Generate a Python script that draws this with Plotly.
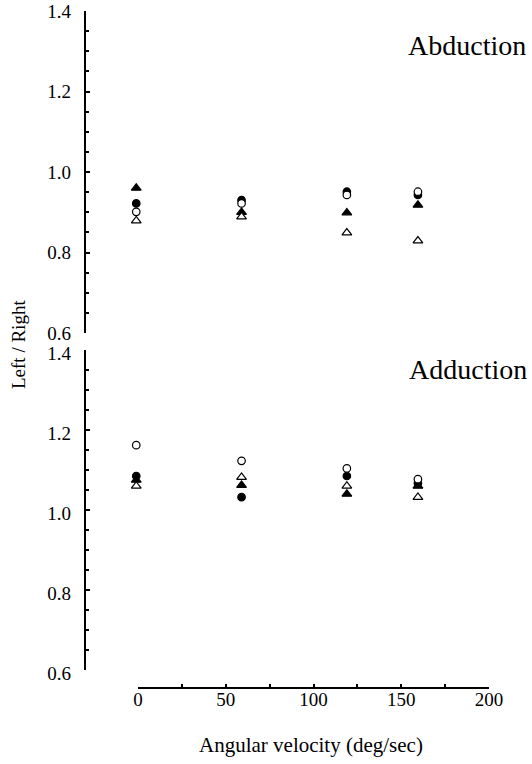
import plotly.graph_objects as go

# ---- data ----
velocity = [-1, 59, 119, 159.5]

abd_filled_circle = [0.922, 0.930, 0.951, 0.943]
abd_open_circle = [0.901, 0.922, 0.943, 0.951]
abd_filled_tri = [0.960, 0.900, 0.899, 0.918]
abd_open_tri = [0.879, 0.889, 0.849, 0.829]

add_filled_circle = [1.085, 1.032, 1.085, 1.067]
add_open_circle = [1.162, 1.123, 1.104, 1.077]
add_filled_tri = [1.075, 1.062, 1.040, 1.060]
add_open_tri = [1.060, 1.082, 1.060, 1.032]

x_ticks = [0, 50, 100, 150, 200]
y_ticks = [0.6, 0.8, 1.0, 1.2, 1.4]

FONT = "Liberation Serif"
W, H = 532, 764


def px_x(p):
    return p / W


def px_y(p):
    return 1 - p / H


# visible x axis: 0 -> px 138, 200 -> px 489
X0_PX, X1_PX = 138, 489
PX_PER_UNIT = (X1_PX - X0_PX) / 200.0
# hidden data axis spans px 86..520 with the same scale
D0, D1 = 86, 520
data_range = [(D0 - X0_PX) / PX_PER_UNIT, (D1 - X0_PX) / PX_PER_UNIT]

fig = go.Figure()


def add_series(y, yaxis, symbol, filled, name):
    fig.add_trace(go.Scatter(
        x=velocity, y=y, mode="markers", yaxis=yaxis, xaxis="x",
        name=name, showlegend=False, cliponaxis=False,
        marker=dict(
            symbol=symbol,
            size=8.5 if "triangle" in symbol else 7.5,
            color="black" if filled else "white",
            line=dict(color="black", width=1.2),
        ),
    ))


for ya, fc, oc, ft, ot in [
    ("y", abd_filled_circle, abd_open_circle, abd_filled_tri, abd_open_tri),
    ("y2", add_filled_circle, add_open_circle, add_filled_tri, add_open_tri),
]:
    add_series(ft, ya, "triangle-up", True, "filled triangle")
    add_series(fc, ya, "circle", True, "filled circle")
    add_series(ot, ya, "triangle-up", False, "open triangle")
    add_series(oc, ya, "circle", False, "open circle")

# empty trace so the separate velocity axis gets drawn
fig.add_trace(go.Scatter(x=[], y=[], xaxis="x2", yaxis="y3",
                         showlegend=False, hoverinfo="skip"))

yaxis_common = dict(
    range=[0.6, 1.4], tickvals=y_ticks, ticktext=[f"{v:.1f}" for v in y_ticks],
    showline=True, linecolor="black", linewidth=2.2,
    ticks="inside", ticklen=4, tickwidth=2, tickcolor="black",
    minor=dict(dtick=0.05, ticks="inside", ticklen=3, tickwidth=1.5, tickcolor="black"),
    showgrid=False, zeroline=False,
    tickfont=dict(family=FONT, size=19, color="black"),
    ticklabelstandoff=9,
    anchor="x", automargin=False,
)

fig.update_layout(
    template="none",
    width=W, height=H,
    margin=dict(l=0, r=0, t=0, b=0, pad=0),
    paper_bgcolor="white", plot_bgcolor="rgba(0,0,0,0)",
    xaxis=dict(
        domain=[px_x(D0), px_x(D1)], range=data_range,
        visible=False, anchor="y2", automargin=False,
    ),
    xaxis2=dict(
        domain=[px_x(X0_PX), px_x(X1_PX)], range=[0, 200],
        tickvals=x_ticks, ticktext=[str(v) for v in x_ticks],
        showline=True, linecolor="black", linewidth=2,
        ticks="inside", ticklen=3, tickwidth=1.5, tickcolor="black",
        minor=dict(dtick=25, ticks="inside", ticklen=3, tickwidth=1.5, tickcolor="black"),
        showgrid=False, zeroline=False,
        tickfont=dict(family=FONT, size=19, color="black"),
        ticklabelstandoff=-6,
        anchor="y3", automargin=False,
    ),
    yaxis=dict(domain=[px_y(333), px_y(11)], **yaxis_common),
    yaxis2=dict(domain=[px_y(670), px_y(350)], ticklabelshift=3, **yaxis_common),
    yaxis3=dict(domain=[px_y(687), px_y(686)], range=[0, 1], visible=False,
                anchor="x2", automargin=False),
    annotations=[
        dict(text="Abduction", x=px_x(467), y=px_y(45), xref="paper", yref="paper",
             xanchor="center", yanchor="middle",
             showarrow=False, font=dict(family=FONT, size=28, color="black")),
        dict(text="Adduction", x=px_x(468), y=px_y(369), xref="paper", yref="paper",
             xanchor="center", yanchor="middle",
             showarrow=False, font=dict(family=FONT, size=28, color="black")),
        dict(text="Angular velocity (deg/sec)", x=px_x(311), y=px_y(745),
             xref="paper", yref="paper", xanchor="center", yanchor="middle",
             showarrow=False, font=dict(family=FONT, size=21, color="black")),
        dict(text="Left / Right", x=px_x(18), y=px_y(345), xref="paper", yref="paper",
             xanchor="center", yanchor="middle",
             showarrow=False, textangle=-90,
             font=dict(family=FONT, size=19, color="black")),
    ],
)

fig.write_html("out.html", config={"displayModeBar": False},
               post_script="document.body.style.margin='0px';")
